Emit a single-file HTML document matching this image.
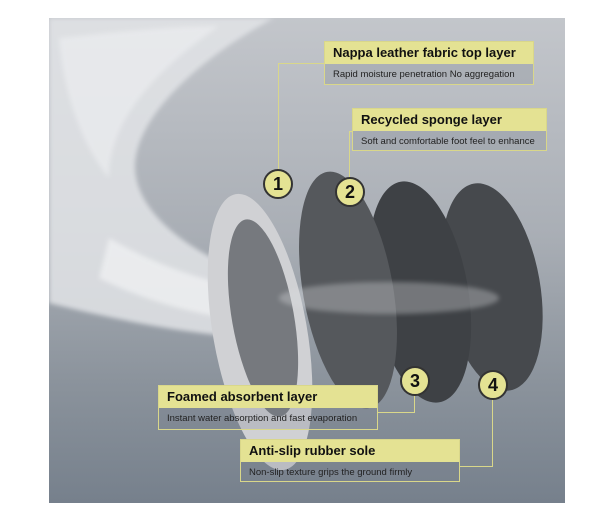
<!DOCTYPE html>
<html><head><style>
body{margin:0;width:614px;height:526px;background:#fff;position:relative;overflow:hidden;font-family:"Liberation Sans",sans-serif}
.bg{position:absolute;left:49px;top:18px;width:516px;height:485px;background:linear-gradient(180deg,#c3c6cb 0%,#a9aeb5 45%,#8b939c 75%,#76808c 100%);overflow:hidden}
.box{position:absolute;border:1px solid #d9d78a;background:rgba(120,128,140,0.25)}
.box .t{background:#e4e293;color:#111;font-weight:bold;font-size:13px;padding:3px 8px;height:16px;line-height:16px}
.box .s{color:#222;font-size:9.5px;padding:5px 8px;line-height:11px}
.c{position:absolute;width:26px;height:26px;border-radius:50%;background:#e4e293;border:2px solid #333;color:#111;font-weight:bold;font-size:18px;text-align:center;line-height:26px;box-sizing:content-box}
.ln{position:absolute;background:#d9d78a}
</style></head><body>
<div class="bg">
<svg width="516" height="485" style="position:absolute;left:0;top:0">
<defs><filter id="b"><feGaussianBlur stdDeviation="2.5"/></filter></defs>
<path d="M0 0 L225 0 C150 40 85 100 86 150 C88 200 150 240 215 262 L225 320 C150 320 60 300 0 285 Z" fill="#e2e4e7" opacity="0.85" filter="url(#b)"/>
<path d="M10 20 C60 15 120 8 170 8 C110 50 60 100 60 160 C35 130 15 80 10 20Z" fill="#f2f3f5" opacity="0.5" filter="url(#b)"/>
<path d="M60 220 C120 255 180 270 240 278 L240 305 C180 305 110 290 50 260Z" fill="#f6f7f8" opacity="0.6" filter="url(#b)"/>
<ellipse cx="443" cy="269" rx="48" ry="105" fill="#46494d" transform="rotate(-10 443 269)"/>
<ellipse cx="371" cy="274" rx="48" ry="112" fill="#3e4145" transform="rotate(-10 371 274)"/>
<ellipse cx="299" cy="272" rx="45" ry="120" fill="#55585c" transform="rotate(-10 299 272)"/>
<ellipse cx="211" cy="314" rx="47" ry="140" fill="#d0d1d4" transform="rotate(-10 211 314)"/>
<ellipse cx="214" cy="300" rx="31" ry="100" fill="#76797e" transform="rotate(-10 214 300)"/>
<ellipse cx="340" cy="280" rx="110" ry="16" fill="#d8dadd" opacity="0.35" filter="url(#b)"/>
</svg>
</div>
<div class="ln" style="left:278px;top:63px;width:46px;height:1px"></div>
<div class="ln" style="left:278px;top:63px;width:1px;height:108px"></div>
<div class="ln" style="left:349px;top:131px;width:3px;height:1px"></div>
<div class="ln" style="left:349px;top:131px;width:1px;height:46px"></div>
<div class="ln" style="left:377px;top:412px;width:37px;height:1px"></div>
<div class="ln" style="left:414px;top:395px;width:1px;height:18px"></div>
<div class="ln" style="left:459px;top:466px;width:34px;height:1px"></div>
<div class="ln" style="left:492px;top:398px;width:1px;height:68px"></div>
<div class="box" style="left:324px;top:41px;width:208px;height:42px"><div class="t">Nappa leather fabric top layer</div><div class="s">Rapid moisture penetration No aggregation</div></div>
<div class="box" style="left:352px;top:108px;width:193px;height:41px"><div class="t">Recycled sponge layer</div><div class="s">Soft and comfortable foot feel to enhance</div></div>
<div class="box" style="left:158px;top:385px;width:218px;height:43px"><div class="t">Foamed absorbent layer</div><div class="s">Instant water absorption and fast evaporation</div></div>
<div class="box" style="left:240px;top:439px;width:218px;height:41px"><div class="t">Anti-slip rubber sole</div><div class="s">Non-slip texture grips the ground firmly</div></div>
<div class="c" style="left:263px;top:169px">1</div>
<div class="c" style="left:335px;top:177px">2</div>
<div class="c" style="left:400px;top:366px">3</div>
<div class="c" style="left:478px;top:370px">4</div>
</body></html>
